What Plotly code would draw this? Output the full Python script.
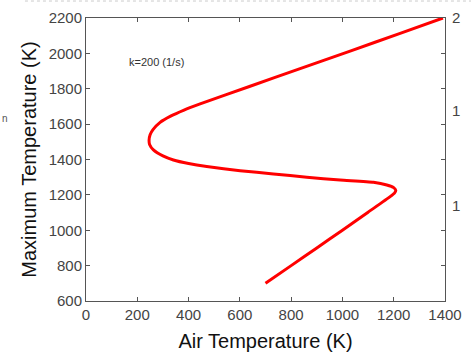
import plotly.graph_objects as go

# Curve data (Air temperature K, Maximum temperature K)
air_temp = [700, 800, 900, 1000, 1100, 1186, 1203, 1208, 1200, 1173,
            1121, 991, 861, 731, 601, 471, 400, 341, 300, 263,
            248, 246, 250, 262, 289, 330, 380, 445, 640, 835,
            1030, 1225, 1392]
max_temp = [700, 800, 900, 1000, 1102, 1190, 1210, 1225, 1241, 1256,
            1271, 1284, 1300, 1318, 1337, 1360, 1377, 1397, 1420, 1454,
            1485, 1510, 1540, 1570, 1610, 1645, 1678, 1714, 1814, 1914,
            2013, 2113, 2200]

x_ticks = [0, 200, 400, 600, 800, 1000, 1200, 1400]
y_ticks = [600, 800, 1000, 1200, 1400, 1600, 1800, 2000, 2200]
right_tick_vals = [2200, 1674, 1137]
right_tick_text = ["2", "1", "1"]

axis_col = "#555555"
font_fam = "Liberation Sans, Arial"
tick_font = dict(family=font_fam, size=15, color="#444444")

fig = go.Figure()
fig.add_trace(go.Scatter(x=air_temp, y=max_temp, mode="lines",
                         line=dict(color="#ff0000", width=3, shape="spline", smoothing=0.5),
                         showlegend=False))
# invisible trace to activate right axis
fig.add_trace(go.Scatter(x=[None], y=[None], yaxis="y2", showlegend=False))

fig.update_layout(
    width=471, height=352,
    margin=dict(l=86, r=26, t=18, b=51),
    paper_bgcolor="white", plot_bgcolor="white",
    xaxis=dict(range=[0, 1400], tickvals=x_ticks, ticks="inside", ticklen=4,
               tickcolor=axis_col, showline=True, linecolor=axis_col, linewidth=1,
               mirror="ticks", showgrid=False, zeroline=False, tickfont=tick_font,
               automargin=False,
               title=dict(text="Air Temperature (K)", standoff=14,
                          font=dict(family=font_fam, size=20, color="#111111"))),
    yaxis=dict(range=[600, 2200], tickvals=y_ticks, ticks="inside", ticklen=4,
               tickcolor=axis_col, showline=True, linecolor=axis_col, linewidth=1,
               mirror="ticks", showgrid=False, zeroline=False, tickfont=tick_font,
               ticklabelstandoff=0, automargin=False,
               title=dict(text="Maximum Temperature (K)", standoff=6,
                          font=dict(family=font_fam, size=20, color="#111111"))),
    yaxis2=dict(range=[600, 2200], overlaying="y", side="right", tickvals=right_tick_vals,
                ticktext=right_tick_text, ticks="", showgrid=False, zeroline=False,
                showline=False, tickfont=tick_font, color="#444444",
                ticklabelstandoff=6, automargin=False),
    annotations=[
        dict(text="k=200 (1/s)", xref="x", yref="y", x=160, y=1952, xanchor="left",
             yanchor="middle", showarrow=False,
             font=dict(family=font_fam, size=11, color="#333333")),
        dict(text="n", xref="paper", yref="paper", x=-0.24, y=0.645, xanchor="left",
             yanchor="middle", showarrow=False,
             font=dict(family=font_fam, size=10, color="#555555")),
    ],
    shapes=[dict(type="line", xref="paper", yref="paper", x0=-0.17, x1=1.08,
                 y0=1.06, y1=1.06, line=dict(color="#cccccc", width=1, dash="dot"))],
)

fig.write_html("out.html")
